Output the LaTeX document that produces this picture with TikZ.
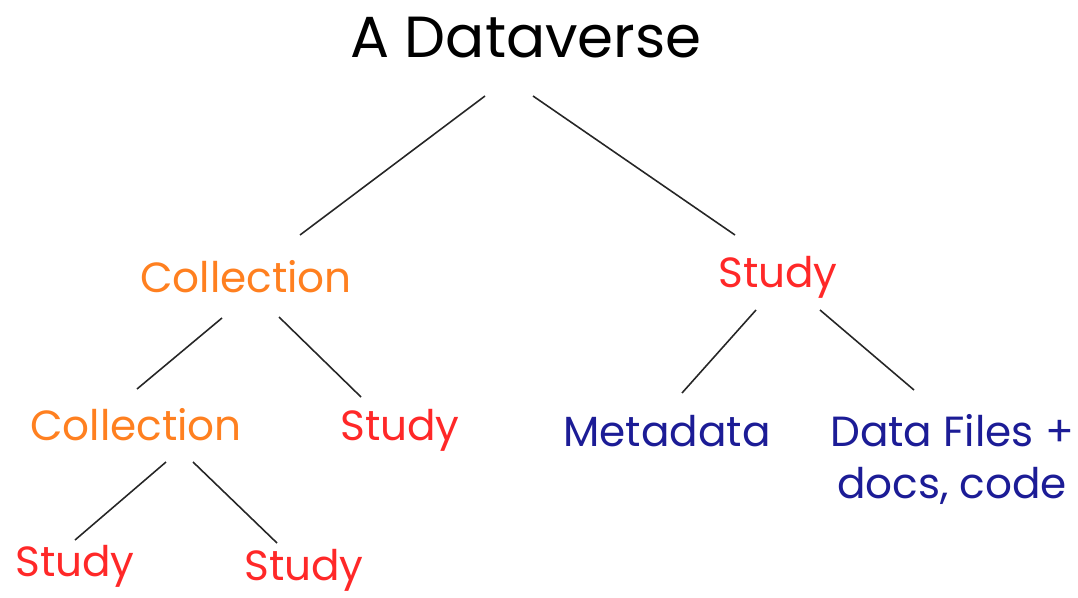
\documentclass[tikz,border=0pt]{standalone}
\usepackage{fontspec}
\setmainfont{Poppins}
\definecolor{collorange}{RGB}{255,128,32}
\definecolor{studyred}{RGB}{255,40,40}
\definecolor{filesblue}{RGB}{28,28,150}
\tikzset{
    treeline/.style={line width=0.9pt,black!85},
    title/.style={anchor=base,inner sep=0pt,font=\fontsize{33}{38}\selectfont},
    coll/.style={anchor=base,inner sep=0pt,text=collorange,font=\fontsize{24}{28}\selectfont},
    studynode/.style={anchor=base,inner sep=0pt,text=studyred,font=\fontsize{24}{28}\selectfont},
    content/.style={anchor=base,inner sep=0pt,text=filesblue,font=\fontsize{24}{28}\selectfont}
}
\begin{document}
\begin{tikzpicture}[x=0.02cm,y=-0.02cm]
    \useasboundingbox (0,0) rectangle (1078,598);
    \node[title] (top) at (526,58) {A Dataverse};
    \node[coll] (coll1) at (246,292) {Collection};
    \node[studynode] (study1) at (778,287) {Study};
    \node[coll] (coll2) at (136,440) {Collection};
    \node[studynode] (study2) at (400,440) {Study};
    \node[content] (meta) at (667,446) {Metadata};
    \node[content] (files) at (952,446) {Data Files +};
    \node[content] (docs) at (952,498) {docs, code};
    \node[studynode] (study3) at (75,576) {Study};
    \node[studynode] (study4) at (304,580) {Study};

    \draw[treeline] ([shift={(-41,38)}]top.base) -- ([shift={(54,-57)}]coll1.base);
    \draw[treeline] ([shift={(7,38)}]top.base) -- ([shift={(-43,-52)}]study1.base);
    \draw[treeline] ([shift={(-24,26)}]coll1.base) -- ([shift={(1,-51)}]coll2.base);
    \draw[treeline] ([shift={(33,25)}]coll1.base) -- ([shift={(-39,-43)}]study2.base);
    \draw[treeline] ([shift={(-22,23)}]study1.base) -- ([shift={(15,-53)}]meta.base);
    \draw[treeline] ([shift={(42,23)}]study1.base) -- ([shift={(-38,-56)}]files.base);
    \draw[treeline] ([shift={(30,22)}]coll2.base) -- ([shift={(0,-36)}]study3.base);
    \draw[treeline] ([shift={(57,22)}]coll2.base) -- ([shift={(-27,-37)}]study4.base);
\end{tikzpicture}
\end{document}
